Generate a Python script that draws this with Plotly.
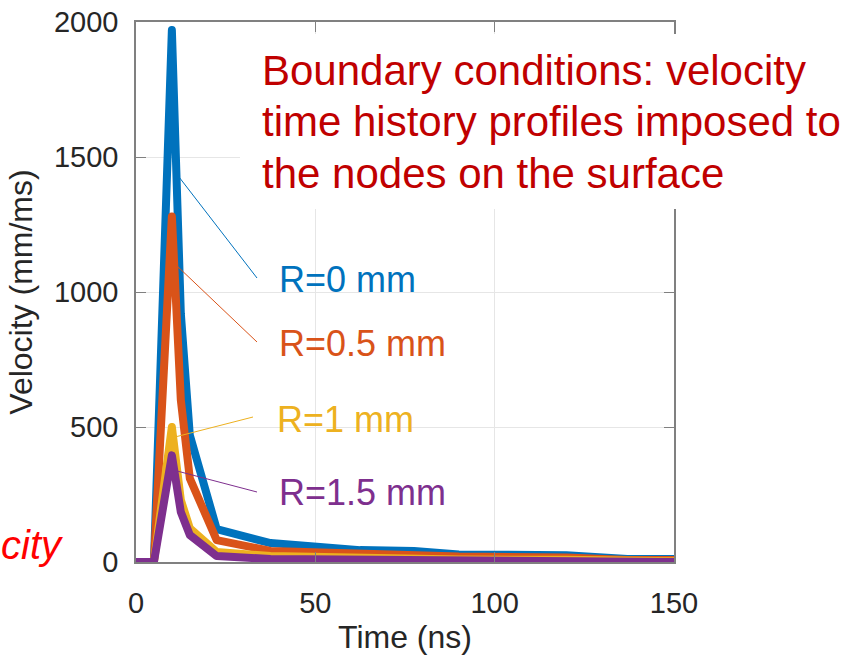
import plotly.graph_objects as go

# ---- data ----
time_ns = [0, 5, 10, 12.5, 15, 22.5, 37.5, 62.5, 77.5, 90, 120, 137, 150]
vel_r0 = [0, 0, 1970, 920, 470, 122, 70, 44, 41, 28, 25, 11, 11]
vel_r05 = [0, 0, 1280, 600, 310, 81, 41, 30, 28, 20, 17, 7, 7]
vel_r1 = [0, 0, 500, 230, 125, 37, 22, 14, 13, 9, 8, 3, 3]
vel_r15 = [0, 0, 395, 185, 100, 22, 11, 7, 6, 4, 3, 0, 0]

series_names = ["R=0 mm", "R=0.5 mm", "R=1 mm", "R=1.5 mm"]
series_values = [vel_r0, vel_r05, vel_r1, vel_r15]
series_colors = ["#0072BD", "#D95319", "#EDB120", "#7E2F8E"]

x_ticks = [0, 50, 100, 150]
y_ticks = [0, 500, 1000, 1500, 2000]

box_lines = ["Boundary conditions: velocity",
             "time history profiles imposed to",
             "the nodes on the surface"]

# ---- layout geometry (pixels) ----
W, H = 866, 663
ML, MR, MT, MB = 136, 192, 22, 101
PW, PH = W - ML - MR, H - MT - MB


def xp(px):
    return (px - ML) / PW


def yp(py):
    return (H - MB - py) / PH


FONT = "Liberation Sans, Arial, sans-serif"
AX = "#808080"
TXT = "#262626"

fig = go.Figure()
for name, vals, col in zip(series_names, series_values, series_colors):
    fig.add_trace(go.Scatter(x=time_ns, y=vals, mode="lines", name=name,
                             line=dict(color=col, width=8),
                             showlegend=False))

# white box behind the text
fig.add_shape(type="rect", xref="paper", yref="paper",
              x0=xp(240), x1=xp(866), y0=yp(209), y1=yp(34),
              fillcolor="white", line=dict(width=0), layer="above")

annotations = []
for i, line in enumerate(box_lines):
    annotations.append(dict(text=line, xref="paper", yref="paper",
                            x=xp(260), y=yp(70 + 51.5 * i),
                            xanchor="left", yanchor="middle", showarrow=False,
                            font=dict(family=FONT, size=42, color="#C00000")))

# series labels with leader lines
label_pos = [(277, 279), (277, 343), (275, 419), (277, 492)]
leaders = [((179, 177), (257, 278)), ((175, 264), (257, 342)),
           ((175, 437), (253, 417)), ((177, 471), (257, 492))]
for name, col, (lx, ly), ((ax0, ay0), (ax1, ay1)) in zip(series_names, series_colors, label_pos, leaders):
    annotations.append(dict(text=name, xref="paper", yref="paper",
                            x=xp(lx), y=yp(ly), xanchor="left", yanchor="middle",
                            showarrow=False,
                            font=dict(family=FONT, size=36, color=col)))
    fig.add_shape(type="line", xref="paper", yref="paper",
                  x0=xp(ax0), y0=yp(ay0), x1=xp(ax1), y1=yp(ay1),
                  line=dict(color=col, width=1))

annotations.append(dict(text="<i>city</i>", xref="paper", yref="paper",
                        x=xp(66), y=yp(545), xanchor="right", yanchor="middle",
                        showarrow=False,
                        font=dict(family=FONT, size=40, color="#FF0000")))

fig.update_layout(
    width=W, height=H,
    margin=dict(l=ML, r=MR, t=MT, b=MB, autoexpand=False),
    paper_bgcolor="white", plot_bgcolor="white",
    font=dict(family=FONT, color=TXT),
    annotations=annotations,
)
fig.update_xaxes(range=[0, 150], tickvals=x_ticks, showgrid=True, gridcolor="#e6e6e6",
                 gridwidth=1, zeroline=False, showline=True, linecolor=AX, linewidth=1.5,
                 mirror="ticks", ticks="inside", ticklen=10, tickcolor=AX, tickwidth=1,
                 tickfont=dict(family=FONT, size=29, color=TXT), ticklabelstandoff=14,
                 title=dict(text="Time (ns)", font=dict(family=FONT, size=32, color=TXT),
                            standoff=5))
fig.update_yaxes(range=[0, 2000], tickvals=y_ticks, showgrid=True, gridcolor="#e6e6e6",
                 gridwidth=1, zeroline=False, showline=True, linecolor=AX, linewidth=1.5,
                 mirror="ticks", ticks="inside", ticklen=10, tickcolor=AX, tickwidth=1,
                 tickfont=dict(family=FONT, size=29, color=TXT), ticklabelstandoff=10,
                 title=dict(text="Velocity (mm/ms)", font=dict(family=FONT, size=32, color=TXT),
                            standoff=12))

round_joins = """
document.querySelectorAll('.js-line').forEach(function(p){
  p.style.strokeLinejoin = 'round';
  p.style.strokeLinecap = 'round';
});
"""
fig.write_html("out.html", post_script=round_joins)
